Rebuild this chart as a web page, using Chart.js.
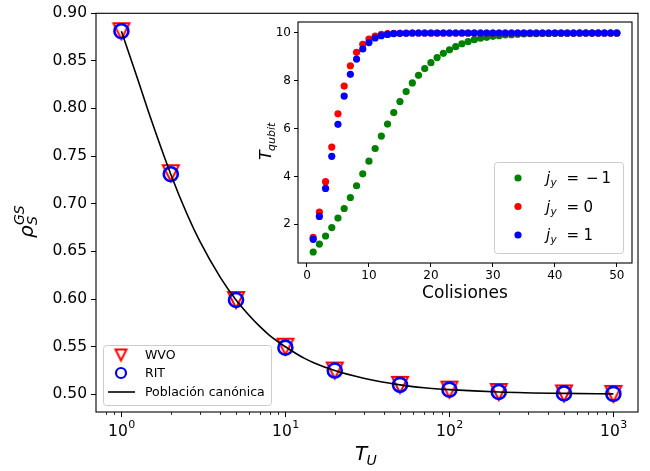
<!DOCTYPE html>
<html>
<head>
<meta charset="utf-8">
<script src="https://cdn.jsdelivr.net/npm/chart.js@4/dist/chart.umd.min.js"></script>
<style>
  html, body { margin: 0; padding: 0; background: #fff; }
  #wrap { position: relative; width: 650px; height: 471px; }
  #wrap canvas { position: absolute; left: 0; top: 0; }
</style>
</head>
<body>
<div id="wrap">
  <canvas id="mainChart" width="650" height="471"></canvas>
  <canvas id="insetChart" width="650" height="471"></canvas>
</div>
<script>
// main panel: ground state population vs T_U
const temps = [1, 2, 5, 10, 20, 50, 100, 200, 500, 1000];
const wvo = [0.881, 0.732, 0.599, 0.550, 0.525, 0.510, 0.505, 0.5025, 0.501, 0.5005];
const rit = [0.881, 0.731, 0.599, 0.549, 0.525, 0.510, 0.505, 0.5025, 0.501, 0.5005];
const curveT = [1, 1.25, 1.5, 2, 2.5, 3, 4, 5, 6, 7, 8, 10, 13, 15, 20, 30, 50, 70, 100, 200, 500, 1000];
const curveRho = [0.881, 0.832, 0.791, 0.731, 0.690, 0.661, 0.623, 0.599, 0.583, 0.571, 0.562, 0.550, 0.538, 0.533, 0.525, 0.517, 0.510, 0.507, 0.505, 0.5025, 0.501, 0.5005];
const rhoTicks = [0.50, 0.55, 0.60, 0.65, 0.70, 0.75, 0.80, 0.85, 0.90];
const tempTicks = [1, 10, 100, 1000];
const tempTickExp = ['0', '1', '2', '3'];
const tempMinor = [0.8, 0.9, 2, 3, 4, 5, 6, 7, 8, 9, 20, 30, 40, 50, 60, 70, 80, 90, 200, 300, 400, 500, 600, 700, 800, 900];

// inset: qubit temperature vs number of collisions
const collisions = [1, 2, 3, 4, 5, 6, 7, 8, 9, 10, 11, 12, 13, 14, 15, 16, 17, 18, 19, 20,
  21, 22, 23, 24, 25, 26, 27, 28, 29, 30, 31, 32, 33, 34, 35, 36, 37, 38, 39, 40,
  41, 42, 43, 44, 45, 46, 47, 48, 49, 50];
const tMinus1 = [0.84, 1.17, 1.51, 1.86, 2.26, 2.66, 3.12, 3.61, 4.11, 4.64,
  5.17, 5.69, 6.19, 6.67, 7.13, 7.55, 7.91, 8.23, 8.51, 8.76,
  8.97, 9.15, 9.30, 9.43, 9.55, 9.64, 9.72, 9.78, 9.82, 9.86,
  9.89, 9.92, 9.93, 9.95, 9.96, 9.97, 9.97, 9.98, 9.98, 9.99,
  9.99, 9.99, 9.99, 10, 10, 10, 10, 10, 10, 10];
const tZero = [1.45, 2.51, 3.78, 5.23, 6.62, 7.78, 8.63, 9.19, 9.53, 9.75,
  9.87, 9.94, 9.97, 9.985, 9.99, 10, 10, 10, 10, 10,
  10, 10, 10, 10, 10, 10, 10, 10, 10, 10,
  10, 10, 10, 10, 10, 10, 10, 10, 10, 10,
  10, 10, 10, 10, 10, 10, 10, 10, 10, 10];
const tPlus1 = [1.37, 2.33, 3.50, 4.84, 6.18, 7.36, 8.27, 8.91, 9.33, 9.60,
  9.79, 9.89, 9.94, 9.97, 9.985, 9.99, 10, 10, 10, 10,
  10, 10, 10, 10, 10, 10, 10, 10, 10, 10,
  10, 10, 10, 10, 10, 10, 10, 10, 10, 10,
  10, 10, 10, 10, 10, 10, 10, 10, 10, 10];
const collTicks = [0, 10, 20, 30, 40, 50];
const tqTicks = [2, 4, 6, 8, 10];

const FONT = '"DejaVu Sans", sans-serif';
const pts = (xs, ys) => xs.map((x, i) => ({ x: x, y: ys[i] }));

// matplotlib style 'v' marker
function makeTriangle(h, lw) {
  const c = document.createElement('canvas');
  const s = Math.ceil(2 * h + lw * 2 + 2);
  c.width = s; c.height = s;
  const g = c.getContext('2d');
  const m = s / 2;
  g.strokeStyle = '#ff0000';
  g.lineWidth = lw;
  g.lineJoin = 'miter';
  g.beginPath();
  g.moveTo(m - h, m - h);
  g.lineTo(m + h, m - h);
  g.lineTo(m, m + h);
  g.closePath();
  g.stroke();
  return c;
}
const triBig = makeTriangle(8, 2);
const triSmall = makeTriangle(5.5, 2);

function box(ctx, x, y, w, h) {
  ctx.save();
  ctx.fillStyle = 'rgba(255,255,255,0.8)';
  ctx.strokeStyle = '#cccccc';
  ctx.lineWidth = 1;
  ctx.beginPath();
  ctx.roundRect(x + 0.5, y + 0.5, w, h, 3);
  ctx.fill();
  ctx.stroke();
  ctx.restore();
}

function frame(ctx, a) {
  ctx.save();
  ctx.strokeStyle = '#000';
  ctx.lineWidth = 1.1;
  ctx.strokeRect(a.left, a.top, a.right - a.left, a.bottom - a.top);
  ctx.restore();
}

const mainDecor = {
  id: 'mainDecor',
  afterDraw(chart) {
    const ctx = chart.ctx;
    const a = chart.chartArea;
    const xs = chart.scales.x;
    frame(ctx, a);
    ctx.save();
    // minor ticks
    ctx.strokeStyle = '#000';
    ctx.lineWidth = 0.8;
    tempMinor.forEach(v => {
      const px = Math.round(xs.getPixelForValue(v)) + 0.5;
      ctx.beginPath();
      ctx.moveTo(px, a.bottom);
      ctx.lineTo(px, a.bottom + 3);
      ctx.stroke();
    });
    // tick labels 10^n
    ctx.fillStyle = '#000';
    ctx.textBaseline = 'alphabetic';
    ctx.textAlign = 'left';
    tempTicks.forEach((v, i) => {
      const px = xs.getPixelForValue(v);
      ctx.font = '15.5px ' + FONT;
      const w1 = ctx.measureText('10').width;
      ctx.font = '11px ' + FONT;
      const w2 = ctx.measureText(tempTickExp[i]).width;
      const x0 = px - (w1 + w2) / 2;
      ctx.font = '15.5px ' + FONT;
      ctx.fillText('10', x0, a.bottom + 24);
      ctx.font = '11px ' + FONT;
      ctx.fillText(tempTickExp[i], x0 + w1 + 0.5, a.bottom + 16);
    });
    // x title T_U
    const cx = (a.left + a.right) / 2;
    ctx.font = 'italic 20px ' + FONT;
    ctx.fillText('T', cx - 12, a.bottom + 48);
    ctx.font = 'italic 14px ' + FONT;
    ctx.fillText('U', cx - 0.5, a.bottom + 53);
    // y title rho_S^GS
    ctx.save();
    ctx.translate(33, 238);
    ctx.rotate(-Math.PI / 2);
    ctx.font = 'italic 20px ' + FONT;
    ctx.fillText('\u03c1', 0, 0);
    ctx.font = 'italic 14px ' + FONT;
    ctx.fillText('S', 13, 4);
    ctx.fillText('GS', 13, -9);
    ctx.restore();
    // legend
    const lx = a.left + 7, ly = a.bottom - 67;
    box(ctx, lx, ly, 168, 60);
    ctx.drawImage(triSmall, lx + 18 - triSmall.width / 2, ly + 10 - triSmall.height / 2);
    ctx.strokeStyle = '#0000ff';
    ctx.lineWidth = 2.2;
    ctx.beginPath();
    ctx.arc(lx + 18, ly + 28, 5, 0, Math.PI * 2);
    ctx.stroke();
    ctx.strokeStyle = '#000';
    ctx.lineWidth = 1.6;
    ctx.beginPath();
    ctx.moveTo(lx + 5, ly + 47);
    ctx.lineTo(lx + 32, ly + 47);
    ctx.stroke();
    ctx.fillStyle = '#000';
    ctx.font = '12.5px ' + FONT;
    ctx.textBaseline = 'middle';
    ctx.fillText('WVO', lx + 42, ly + 11);
    ctx.fillText('RIT', lx + 42, ly + 29);
    ctx.fillText('Población canónica', lx + 42, ly + 48);
    ctx.restore();
  }
};

new Chart(document.getElementById('mainChart'), {
  data: {
    datasets: [
      {
        type: 'line', label: 'Población canónica', data: pts(curveT, curveRho),
        borderColor: '#000', borderWidth: 1.6, pointRadius: 0,
        cubicInterpolationMode: 'monotone', fill: false, order: 1
      },
      {
        type: 'scatter', label: 'RIT', data: pts(temps, rit),
        pointStyle: 'circle', pointRadius: 7, borderWidth: 2.6,
        borderColor: '#0000ff', backgroundColor: 'rgba(0,0,0,0)', order: 2
      },
      {
        type: 'scatter', label: 'WVO', data: pts(temps, wvo),
        pointStyle: triBig, pointRadius: 8, order: 3
      }
    ]
  },
  options: {
    responsive: false,
    animation: false,
    events: [],
    layout: { padding: { top: 13, right: 12, left: 0, bottom: 0 } },
    plugins: { legend: { display: false }, tooltip: { enabled: false } },
    scales: {
      x: {
        type: 'logarithmic', min: 0.708, max: 1413,
        afterBuildTicks: s => { s.ticks = tempTicks.map(v => ({ value: v, major: true })); },
        afterFit: s => { s.height = 59; },
        grid: { drawOnChartArea: false, tickLength: 5, tickColor: '#000', tickWidth: 1 },
        border: { display: false },
        ticks: { display: false }
      },
      y: {
        min: 0.4815, max: 0.8998,
        afterBuildTicks: s => { s.ticks = rhoTicks.map(v => ({ value: v })); },
        afterFit: s => { s.width = 96; },
        grid: { drawOnChartArea: false, tickLength: 5, tickColor: '#000', tickWidth: 1 },
        border: { display: false },
        ticks: {
          color: '#000', padding: 4, font: { family: FONT, size: 15.5 },
          callback: v => v.toFixed(2)
        }
      }
    }
  },
  plugins: [mainDecor]
});

const insetDecor = {
  id: 'insetDecor',
  beforeDatasetsDraw(chart) {
    const a = chart.chartArea;
    chart.ctx.save();
    chart.ctx.fillStyle = '#fff';
    chart.ctx.fillRect(a.left, a.top, a.right - a.left, a.bottom - a.top);
    chart.ctx.restore();
  },
  afterDraw(chart) {
    const ctx = chart.ctx;
    const a = chart.chartArea;
    frame(ctx, a);
    ctx.save();
    ctx.fillStyle = '#000';
    ctx.textBaseline = 'alphabetic';
    // x title
    ctx.font = '17px ' + FONT;
    ctx.textAlign = 'center';
    ctx.fillText('Colisiones', (a.left + a.right) / 2, a.bottom + 35);
    ctx.textAlign = 'left';
    // y title T_qubit
    ctx.save();
    ctx.translate(a.left - 27, 160);
    ctx.rotate(-Math.PI / 2);
    ctx.font = 'italic 16px ' + FONT;
    ctx.fillText('T', 0, 0);
    ctx.font = 'italic 11px ' + FONT;
    ctx.fillText('qubit', 9, 3.5);
    ctx.restore();
    // legend
    const bx = a.right - 138, by = a.bottom - 101;
    box(ctx, bx, by, 129, 91);
    const rows = [
      { c: '#008000', v: '1', neg: true },
      { c: '#ff0000', v: '0', neg: false },
      { c: '#0000ff', v: '1', neg: false }
    ];
    rows.forEach((r, i) => {
      const yy = by + 16 + i * 28.5;
      ctx.fillStyle = r.c;
      ctx.beginPath();
      ctx.arc(bx + 24, yy, 3.6, 0, Math.PI * 2);
      ctx.fill();
      ctx.fillStyle = '#000';
      const tx = bx + 52;
      const base = yy + 5;
      ctx.font = 'italic 15px ' + FONT;
      ctx.fillText('j', tx, base);
      ctx.font = 'italic 10.5px ' + FONT;
      ctx.fillText('y', tx + 4.5, base + 3);
      ctx.font = '15px ' + FONT;
      ctx.fillText('=', tx + 20.5, base);
      if (r.neg) {
        ctx.fillText('\u2212', tx + 40, base);
        ctx.fillText('1', tx + 55.5, base);
      } else {
        ctx.fillText(r.v, tx + 37.5, base);
      }
    });
    ctx.restore();
  }
};

new Chart(document.getElementById('insetChart'), {
  type: 'scatter',
  data: {
    datasets: [
      { label: 'j_y = -1', data: pts(collisions, tMinus1), backgroundColor: '#008000', order: 3 },
      { label: 'j_y = 0', data: pts(collisions, tZero), backgroundColor: '#ff0000', order: 2 },
      { label: 'j_y = 1', data: pts(collisions, tPlus1), backgroundColor: '#0000ff', order: 1 }
    ]
  },
  options: {
    responsive: false,
    animation: false,
    events: [],
    layout: { padding: { top: 22, right: 18, left: 0, bottom: 0 } },
    elements: { point: { radius: 3.6, borderWidth: 0, pointStyle: 'circle' } },
    plugins: { legend: { display: false }, tooltip: { enabled: false } },
    scales: {
      x: {
        type: 'linear', min: -1.45, max: 52.45,
        afterBuildTicks: s => { s.ticks = collTicks.map(v => ({ value: v })); },
        afterFit: s => { s.height = 208; },
        grid: { drawOnChartArea: false, tickLength: 4, tickColor: '#000', tickWidth: 1 },
        border: { display: false },
        ticks: { color: '#000', padding: 2, maxRotation: 0, font: { family: FONT, size: 12 } }
      },
      y: {
        min: 0.38, max: 10.46,
        afterBuildTicks: s => { s.ticks = tqTicks.map(v => ({ value: v })); },
        afterFit: s => { s.width = 298; },
        grid: { drawOnChartArea: false, tickLength: 4, tickColor: '#000', tickWidth: 1 },
        border: { display: false },
        ticks: { color: '#000', padding: 3, font: { family: FONT, size: 12 } }
      }
    }
  },
  plugins: [insetDecor]
});
</script>
</body>
</html>
